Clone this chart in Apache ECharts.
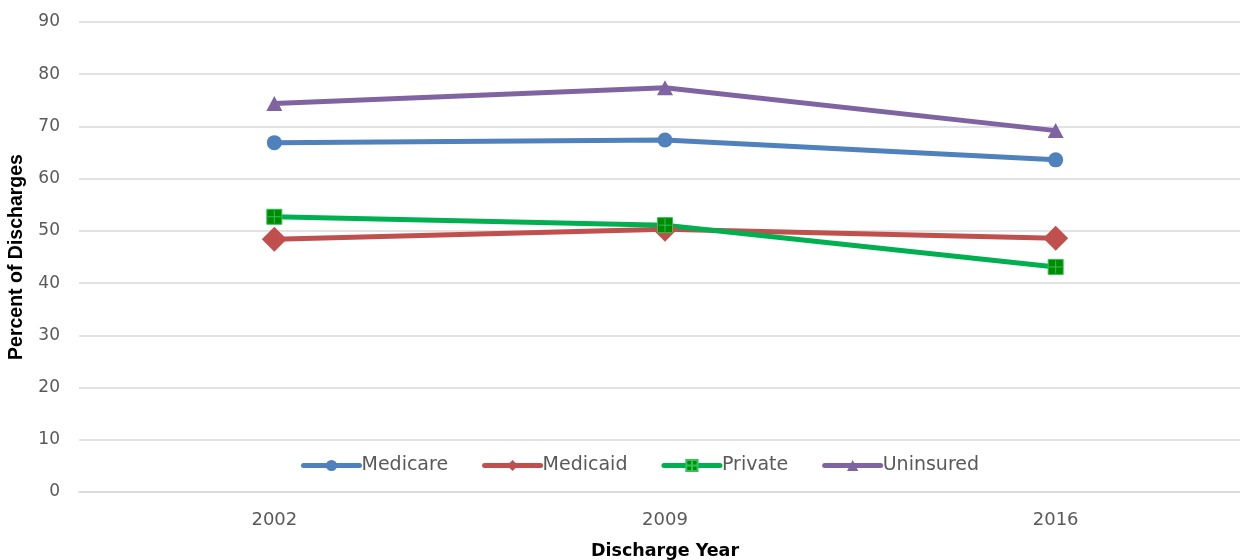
<!DOCTYPE html>
<html><head><meta charset="utf-8">
<script src="https://cdn.jsdelivr.net/npm/echarts@6/dist/echarts.min.js"></script>
<style>html,body{margin:0;padding:0;background:#fff}#c{width:1240px;height:560px}</style>
</head><body><div id="c"></div>
<script>
const years = ['2002', '2009', '2016'];
const medicare = [66.9, 67.4, 63.6];
const medicaid = [48.4, 50.3, 48.6];
const privateIns = [52.7, 51.1, 43.1];
const uninsured = [74.4, 77.4, 69.2];
const yTicks = [0, 90, 10];

const chart = echarts.init(document.getElementById('c'));
const plusSquare = 'path://M0,0 L14,0 L14,14 L0,14 Z M7,1 L7,13 M1,7 L13,7';
function line(name, data, color, symbol, size, extra) {
  return Object.assign({
    name, type: 'line', data, symbol, symbolSize: size,
    lineStyle: { color, width: 5, cap: 'round' },
    itemStyle: { color },
    emphasis: { disabled: true },
    animation: false
  }, extra || {});
}
chart.setOption({
  animation: false,
  grid: { left: 79, right: -11, top: 22, bottom: 68, containLabel: false, outerBoundsMode: 'none' },
  legend: {
    left: 296, top: 451, itemWidth: 56, itemHeight: 14, itemGap: 34,
    lineStyle: { width: 5, cap: 'round' },
    textStyle: { fontFamily: 'DejaVu Sans', fontSize: 19, color: '#595959', padding: [0, 0, 0, -3] },
    data: ['Medicare', 'Medicaid', 'Private', 'Uninsured']
  },
  xAxis: {
    type: 'category', data: years, boundaryGap: true,
    axisLine: { show: true, lineStyle: { color: '#d9d9d9', width: 1.5 } },
    axisTick: { show: false },
    axisLabel: { fontFamily: 'DejaVu Sans', fontSize: 18, color: '#595959', margin: 19 },
    name: 'Discharge Year', nameLocation: 'middle', nameGap: 50,
    nameTextStyle: { fontFamily: 'DejaVu Sans', fontSize: 17.5, fontWeight: 'bold', color: '#000' }
  },
  yAxis: {
    type: 'value', min: yTicks[0], max: yTicks[1], interval: yTicks[2],
    axisLine: { show: false }, axisTick: { show: false },
    splitLine: { lineStyle: { color: '#d9d9d9', width: 1.5 } },
    axisLabel: { fontFamily: 'DejaVu Sans', fontSize: 17, color: '#595959', margin: 19 },
    name: 'Percent of Discharges', nameLocation: 'middle', nameGap: 52, nameRotate: 90,
    nameTextStyle: { fontFamily: 'Liberation Sans', fontSize: 19.5, fontWeight: 'bold', color: '#000' }
  },
  series: [
    line('Medicare', medicare, '#4f81bd', 'circle', 15),
    line('Medicaid', medicaid, '#c0504d', 'diamond', [25, 25]),
    line('Private', privateIns, '#00b050', plusSquare, 15, {
      itemStyle: { color: '#008a00', borderColor: '#2ec45a', borderWidth: 1 }
    }),
    line('Uninsured', uninsured, '#8064a2', 'triangle', [16, 15])
  ]
});
</script></body></html>
